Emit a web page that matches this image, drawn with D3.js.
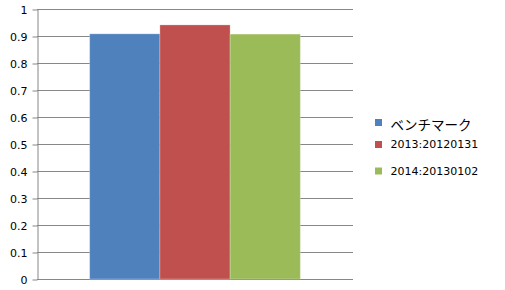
<!DOCTYPE html>
<html>
<head>
<meta charset="utf-8">
<script src="https://cdn.jsdelivr.net/npm/d3@7"></script>
<style>
  html, body { margin: 0; padding: 0; background: #fff; }
  svg { display: block; }
</style>
</head>
<body>
<svg id="chart" width="505" height="290"></svg>
<script>
const categories = [""];
const seriesNames = ["ベンチマーク", "2013:20120131", "2014:20130102"];
const seriesValues = [0.908, 0.941, 0.907];
const seriesColors = ["#4F81BD", "#C0504D", "#9BBB59"];
const tickValues = [0, 0.1, 0.2, 0.3, 0.4, 0.5, 0.6, 0.7, 0.8, 0.9, 1];
const tickLabels = ["0", "0.1", "0.2", "0.3", "0.4", "0.5", "0.6", "0.7", "0.8", "0.9", "1"];

const svg = d3.select("#chart");
const plot = { left: 37, right: 353, top: 9, bottom: 279 };

const y = d3.scaleLinear().domain([0, 1]).range([plot.bottom, plot.top]);
const x0 = d3.scaleBand().domain(categories).range([plot.left, plot.right])
  .paddingInner(0).paddingOuter(0.25);
const x1 = d3.scaleBand().domain(seriesNames).range([0, x0.bandwidth()]).padding(0);

// gridlines
svg.append("g")
  .selectAll("line")
  .data(tickValues)
  .join("line")
  .attr("x1", plot.left)
  .attr("x2", plot.right)
  .attr("y1", d => Math.round(y(d)) + 0.5)
  .attr("y2", d => Math.round(y(d)) + 0.5)
  .attr("stroke", "#878787")
  .attr("stroke-width", 1);

// bars
const g = svg.append("g");
categories.forEach(c => {
  g.selectAll("rect.s")
    .data(seriesNames.map((n, i) => ({ name: n, value: seriesValues[i], color: seriesColors[i] })))
    .join("rect")
    .attr("class", "s")
    .attr("x", d => x0(c) + x1(d.name))
    .attr("y", d => y(d.value))
    .attr("width", x1.bandwidth())
    .attr("height", d => y(0) - y(d.value))
    .attr("fill", d => d.color)
    .attr("stroke", "rgba(255,255,255,0.25)")
    .attr("stroke-width", 1);
});

// y axis
const yAxis = d3.axisLeft(y)
  .tickValues(tickValues)
  .tickFormat((d, i) => tickLabels[i])
  .tickSizeInner(5)
  .tickSizeOuter(0)
  .tickPadding(5);
const ya = svg.append("g")
  .attr("transform", `translate(${plot.left + 0.5},0.5)`)
  .call(yAxis);
ya.select(".domain").attr("stroke", "#878787");
ya.selectAll(".tick line").attr("stroke", "#878787");
ya.selectAll(".tick text")
  .attr("font-family", "'DejaVu Sans', Verdana, sans-serif")
  .attr("font-size", "11px")
  .attr("fill", "#000")
  .attr("dy", "0.36em");

// legend
const legendRows = [
  { y: 126, size: 13.5, font: "'Noto Sans CJK JP', sans-serif" },
  { y: 148, size: 11, font: "'DejaVu Sans', Verdana, sans-serif" },
  { y: 174.5, size: 11, font: "'DejaVu Sans', Verdana, sans-serif" }
];
const lg = svg.append("g");
seriesNames.forEach((n, i) => {
  const r = legendRows[i];
  lg.append("rect")
    .attr("x", 375)
    .attr("y", r.y - 7)
    .attr("width", 7)
    .attr("height", 7)
    .attr("fill", seriesColors[i]);
  lg.append("text")
    .attr("x", 390.5)
    .attr("y", i === 0 ? 129.5 : r.y)
    .attr("font-family", r.font)
    .attr("font-size", r.size + "px")
    .attr("fill", "#000")
    .text(n);
});
</script>
</body>
</html>
